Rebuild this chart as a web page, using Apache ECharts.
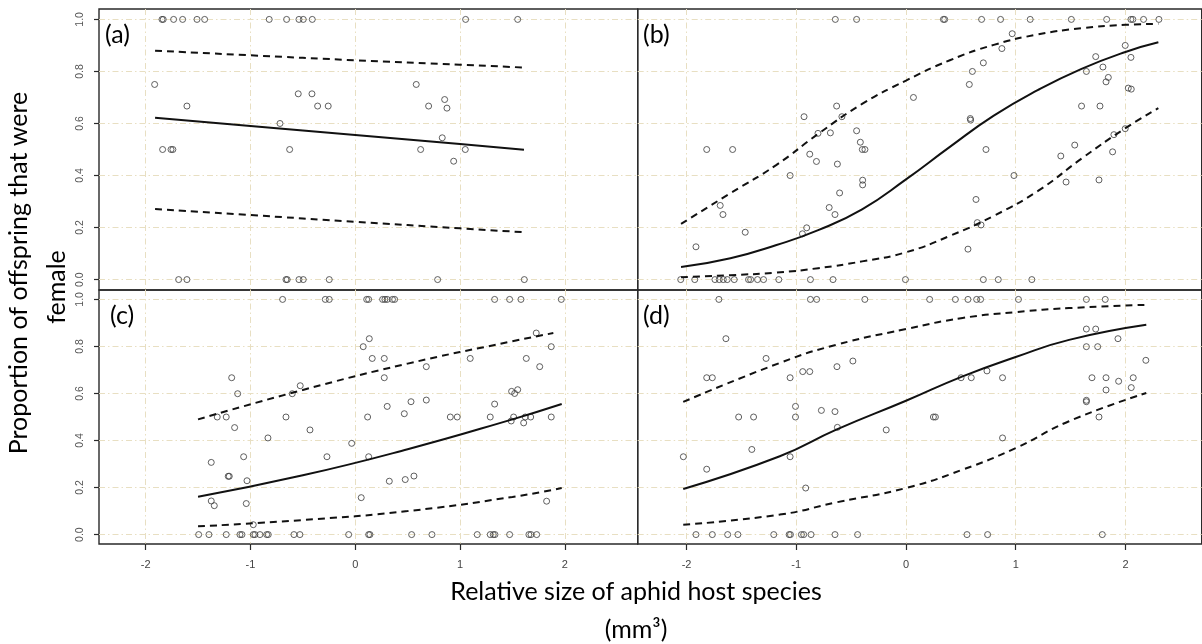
<!DOCTYPE html>
<html>
<head>
<meta charset="utf-8">
<script src="https://cdn.jsdelivr.net/npm/echarts@6/dist/echarts.min.js"></script>
<style>
html,body{margin:0;padding:0;background:#fff;}
#chart{width:1202px;height:644px;}
</style>
</head>
<body>
<div id="chart"></div>
<script>
// ---------- tick values ----------
const xTicks = [-2, -1, 0, 1, 2];
const yTicks = [0, 0.2, 0.4, 0.6, 0.8, 1.0];
const panelLabels = ['(a)', '(b)', '(c)', '(d)'];
const yTitle1 = 'Proportion of offspring that were';
const yTitle2 = 'female';
const xTitle1 = 'Relative size of aphid host species';
const xTitle2 = '(mm\u00B3)';

// ---------- panel (a) observations ----------
const aX = [-1.844,-1.832,-1.733,-1.647,-1.510,-1.437,-0.821,-0.655,-0.537,-0.496,-0.410,1.053,1.55,
  -1.914,-1.606,-1.838,-1.758,-1.74,-0.718,-0.626,-0.544,-0.413,-0.359,-0.258,0.582,0.70,0.853,0.875,0.830,0.624,1.05,0.939,
  -1.685,-1.606,-0.661,-0.649,-0.537,-0.496,-0.248,0.786,1.613];
const aY = [1,1,1,1,1,1,1,1,1,1,1,1,1,
  0.75,0.667,0.5,0.5,0.5,0.6,0.5,0.714,0.714,0.667,0.667,0.75,0.667,0.692,0.659,0.545,0.5,0.5,0.455,
  0,0,0,0,0,0,0,0,0];
const aFitX = [-1.91, -1, 0, 1, 1.61];
const aFit = [0.622, 0.59, 0.556, 0.521, 0.499];
const aUp = [0.88, 0.862, 0.843, 0.826, 0.815];
const aLo = [0.271, 0.248, 0.222, 0.197, 0.182];

// ---------- panel (b) observations ----------
const bX = [-0.644,-0.45,0.341,0.353,0.689,0.862,1.132,1.507,1.829,2.05,2.068,2.165,2.305,
  -1.816,-1.58,-1.693,-1.668,-1.465,-1.914,
  -1.056,-0.929,-0.877,-0.816,-0.802,-0.689,-0.632,-0.584,-0.625,-0.45,-0.416,-0.398,-0.374,-0.395,-0.395,-0.605,-0.7,-0.647,-0.905,-0.944,
  0.068,0.577,0.605,0.705,0.874,0.968,0.586,0.589,0.729,0.984,0.638,0.65,0.684,0.565,
  1.411,1.538,1.459,1.6,1.768,1.644,1.729,1.795,1.844,1.823,1.998,2.05,2.026,2.053,1.895,1.883,1.998,1.759,
  -2.053,-1.925,-1.741,-1.702,-1.665,-1.629,-1.565,-1.435,-1.416,-1.353,-1.298,-1.159,-0.871,-0.665,-0.005,0.705,0.841,1.147];
const bY = [1,1,1,1,1,1,1,1,1,1,1,1,1,
  0.5,0.5,0.285,0.25,0.182,0.126,
  0.40,0.626,0.482,0.454,0.562,0.564,0.667,0.626,0.444,0.572,0.528,0.5,0.5,0.382,0.364,0.333,0.277,0.25,0.199,0.176,
  0.70,0.75,0.80,0.833,0.888,0.945,0.619,0.613,0.5,0.4,0.308,0.219,0.21,0.117,
  0.475,0.517,0.375,0.667,0.667,0.80,0.857,0.817,0.777,0.76,0.90,0.854,0.736,0.732,0.557,0.491,0.58,0.383,
  0,0,0,0,0,0,0,0,0,0,0,0,0,0,0,0,0,0];
const bFitX = [-2.05,-1.6,-1.18,-0.8,-0.4,0,0.4,0.8,1.2,1.6,2.0,2.3];
const bFit = [0.048,0.082,0.133,0.19,0.27,0.385,0.51,0.63,0.728,0.81,0.875,0.912];
const bUpX = [-2.05,-1.6,-1.18,-0.8,-0.4,0,0.4,0.8,1.2,1.6,2.0,2.3];
const bUp = [0.214,0.332,0.441,0.56,0.675,0.765,0.843,0.902,0.942,0.966,0.979,0.983];
const bLoX = [-2.05,-1.6,-1.18,-0.8,-0.4,0,0.4,0.8,1.2,1.6,2.0,2.3];
const bLo = [0.009,0.017,0.027,0.044,0.07,0.105,0.168,0.245,0.34,0.465,0.582,0.659];

// ---------- panel (c) observations ----------
const cX = [-0.693,-0.286,-0.248,0.109,0.128,0.261,0.283,0.305,0.355,0.376,1.33,1.473,1.581,1.966,
  -1.374,-1.374,-1.345,-1.317,-1.231,-1.179,-1.122,-1.151,-1.212,-1.202,-1.065,-1.033,-1.04,-0.973,-0.833,-0.661,-0.601,-0.525,-0.432,-0.27,
  -0.034,0.057,0.076,0.134,0.162,0.118,0.128,0.277,0.277,0.305,0.325,
  0.468,0.532,0.678,0.678,0.477,0.56,0.907,0.973,1.097,1.288,1.33,1.492,1.521,1.55,1.511,1.488,1.607,1.622,1.674,1.632,1.76,1.727,1.87,1.87,1.826,
  -1.494,-1.396,-1.231,-1.10,-1.081,-0.973,-0.957,-0.909,-0.845,-0.830,-0.585,-0.528,-0.063,0.128,0.140,
  0.538,0.732,1.164,1.288,1.317,1.333,1.473,1.657,1.677,1.731];
const cY = [1,1,1,1,1,1,1,1,1,1,1,1,1,1,
  0.307,0.143,0.123,0.5,0.5,0.667,0.599,0.455,0.248,0.248,0.331,0.229,0.132,0.042,0.411,0.5,0.599,0.633,0.445,0.331,
  0.388,0.157,0.799,0.833,0.749,0.5,0.331,0.749,0.667,0.545,0.227,
  0.514,0.565,0.714,0.572,0.234,0.249,0.5,0.5,0.749,0.5,0.555,0.609,0.60,0.616,0.5,0.483,0.475,0.5,0.5,0.749,0.714,0.857,0.799,0.5,0.142,
  0,0,0,0,0,0,0,0,0,0,0,0,0,0,0,
  0,0,0,0,0,0,0,0,0,0];
const cFitX = [-1.5,-0.5,0.5,1.5,1.97];
const cFit = [0.161,0.252,0.363,0.49,0.555];
const cUpX = [-1.5,-0.5,0.5,1.5,1.89];
const cUp = [0.49,0.615,0.727,0.822,0.857];
const cLoX = [-1.5,-0.5,0.5,1.5,1.97];
const cLo = [0.035,0.062,0.1,0.16,0.198];

// ---------- panel (d) observations ----------
const dX = [-1.705,-0.871,-0.814,-0.375,0.216,0.45,0.565,0.644,0.68,1.025,1.644,1.816,
  -2.029,-1.816,-1.816,-1.765,-1.641,-1.525,-1.389,-1.405,-1.275,
  -1.056,-0.941,-0.877,-0.629,-0.484,-1.007,-1.007,-0.771,-0.647,-0.625,-1.056,-0.914,-0.18,0.25,0.268,0.502,0.595,0.738,0.88,0.88,
  1.644,1.729,1.644,1.747,1.932,1.695,1.823,1.938,2.071,1.823,2.053,1.644,1.644,1.759,2.186,
  -1.914,-1.765,-1.625,-1.532,-1.205,-1.065,-1.053,-0.953,-0.932,-0.865,-0.647,-0.441,0.556,0.744,1.789];
const dY = [1,1,1,1,1,1,1,1,1,1,1,1,
  0.331,0.278,0.667,0.667,0.833,0.5,0.5,0.362,0.749,
  0.667,0.693,0.693,0.714,0.738,0.545,0.5,0.528,0.523,0.456,0.331,0.198,0.445,0.5,0.5,0.667,0.667,0.696,0.667,0.411,
  0.874,0.874,0.799,0.799,0.833,0.667,0.667,0.652,0.667,0.615,0.625,0.571,0.565,0.5,0.741,
  0,0,0,0,0,0,0,0,0,0,0,0,0,0,0];
const dFitX = [-2.03,-1.15,-0.635,0,0.516,1.0,1.486,2.19];
const dFit = [0.194,0.333,0.446,0.569,0.673,0.755,0.828,0.892];
const dUp = [0.564,0.73,0.807,0.874,0.921,0.946,0.963,0.977];
const dLo = [0.042,0.085,0.137,0.198,0.276,0.368,0.482,0.602];

// ---------- build ----------
const zip = (xs, ys) => xs.map((x, i) => [x, ys[i]]);
const gridCol = '#e8dfc2';
const frameCol = '#2a2a2a';
const tickFont = 'Liberation Sans';
const titleFont = 'Lato';

const grids = [
  {left: 99, top: 9, width: 538.7, height: 281},
  {left: 637.7, top: 9, width: 564, height: 281},
  {left: 99, top: 290, width: 538.7, height: 254},
  {left: 637.7, top: 290, width: 564, height: 254}
].map(g => Object.assign(g, {show: true, borderColor: frameCol, borderWidth: 1.4, backgroundColor: 'transparent', containLabel: false}));

function xAxis(i, showLabels) {
  return {
    type: 'value', gridIndex: i, min: -2.445, max: 2.695,
    axisLine: {show: false, onZero: false},
    axisTick: {show: showLabels, customValues: xTicks, length: 6, lineStyle: {color: frameCol, width: 1.2}},
    axisLabel: {show: showLabels, customValues: xTicks, margin: 15, fontFamily: tickFont, fontSize: 11, color: '#444',
      formatter: v => String(v)},
    splitLine: {show: true, lineStyle: {color: gridCol, width: 1, type: [6, 3, 1.5, 3]}}
  };
}
function yAxis(i, showLabels) {
  return {
    type: 'value', gridIndex: i, min: -0.04, max: 1.04,
    axisLine: {show: false, onZero: false},
    axisTick: {show: showLabels, customValues: yTicks, length: 5, lineStyle: {color: frameCol, width: 1.2}},
    axisLabel: {show: showLabels, customValues: yTicks, rotate: 90, margin: 13, fontFamily: tickFont, fontSize: 10.5, color: '#555',
      formatter: v => v.toFixed(1)},
    splitLine: {show: true, lineStyle: {color: gridCol, width: 1, type: [6, 3, 1.5, 3]}}
  };
}

function scatter(i, xs, ys) {
  return {type: 'scatter', xAxisIndex: i, yAxisIndex: i, data: zip(xs, ys), symbol: 'circle', symbolSize: 6,
    itemStyle: {color: 'rgba(0,0,0,0)', borderColor: '#3a3a3a', borderWidth: 1}, z: 3, silent: true};
}
function curve(i, xs, ys, dashed) {
  return {type: 'line', xAxisIndex: i, yAxisIndex: i, data: zip(xs, ys), showSymbol: false, symbol: 'none',
    smooth: 0.5,
    lineStyle: {color: '#111', width: 2, type: dashed ? [7, 5] : 'solid'}, z: 4, silent: true};
}

const series = [
  scatter(0, aX, aY), curve(0, aFitX, aFit, false), curve(0, aFitX, aUp, true), curve(0, aFitX, aLo, true),
  scatter(1, bX, bY), curve(1, bFitX, bFit, false), curve(1, bUpX, bUp, true), curve(1, bLoX, bLo, true),
  scatter(2, cX, cY), curve(2, cFitX, cFit, false), curve(2, cUpX, cUp, true), curve(2, cLoX, cLo, true),
  scatter(3, dX, dY), curve(3, dFitX, dFit, false), curve(3, dFitX, dUp, true), curve(3, dFitX, dLo, true)
];

const labelPos = [[105, 35], [643, 35], [110, 316], [643, 316]];
const bigFont = '25px ' + titleFont;
const graphic = panelLabels.map((t, i) => ({
  type: 'text', x: labelPos[i][0], y: labelPos[i][1],
  style: {text: t, font: bigFont, fill: '#000', align: 'left', verticalAlign: 'middle'}, z: 10
})).concat([
  {type: 'text', x: 19, y: 273, rotation: Math.PI / 2,
    style: {text: yTitle1, font: bigFont, fill: '#000', align: 'center', verticalAlign: 'middle'}},
  {type: 'text', x: 57, y: 287, rotation: Math.PI / 2,
    style: {text: yTitle2, font: bigFont, fill: '#000', align: 'center', verticalAlign: 'middle'}},
  {type: 'text', x: 636, y: 592,
    style: {text: xTitle1, font: bigFont, fill: '#000', align: 'center', verticalAlign: 'middle'}},
  {type: 'text', x: 636, y: 630,
    style: {text: xTitle2, font: bigFont, fill: '#000', align: 'center', verticalAlign: 'middle'}}
]);

const chart = echarts.init(document.getElementById('chart'), null, {renderer: 'canvas'});
chart.setOption({
  animation: false,
  backgroundColor: '#fff',
  grid: grids,
  xAxis: [xAxis(0, false), xAxis(1, false), xAxis(2, true), xAxis(3, true)],
  yAxis: [yAxis(0, true), yAxis(1, false), yAxis(2, true), yAxis(3, false)],
  series: series,
  graphic: graphic
});
</script>
</body>
</html>
